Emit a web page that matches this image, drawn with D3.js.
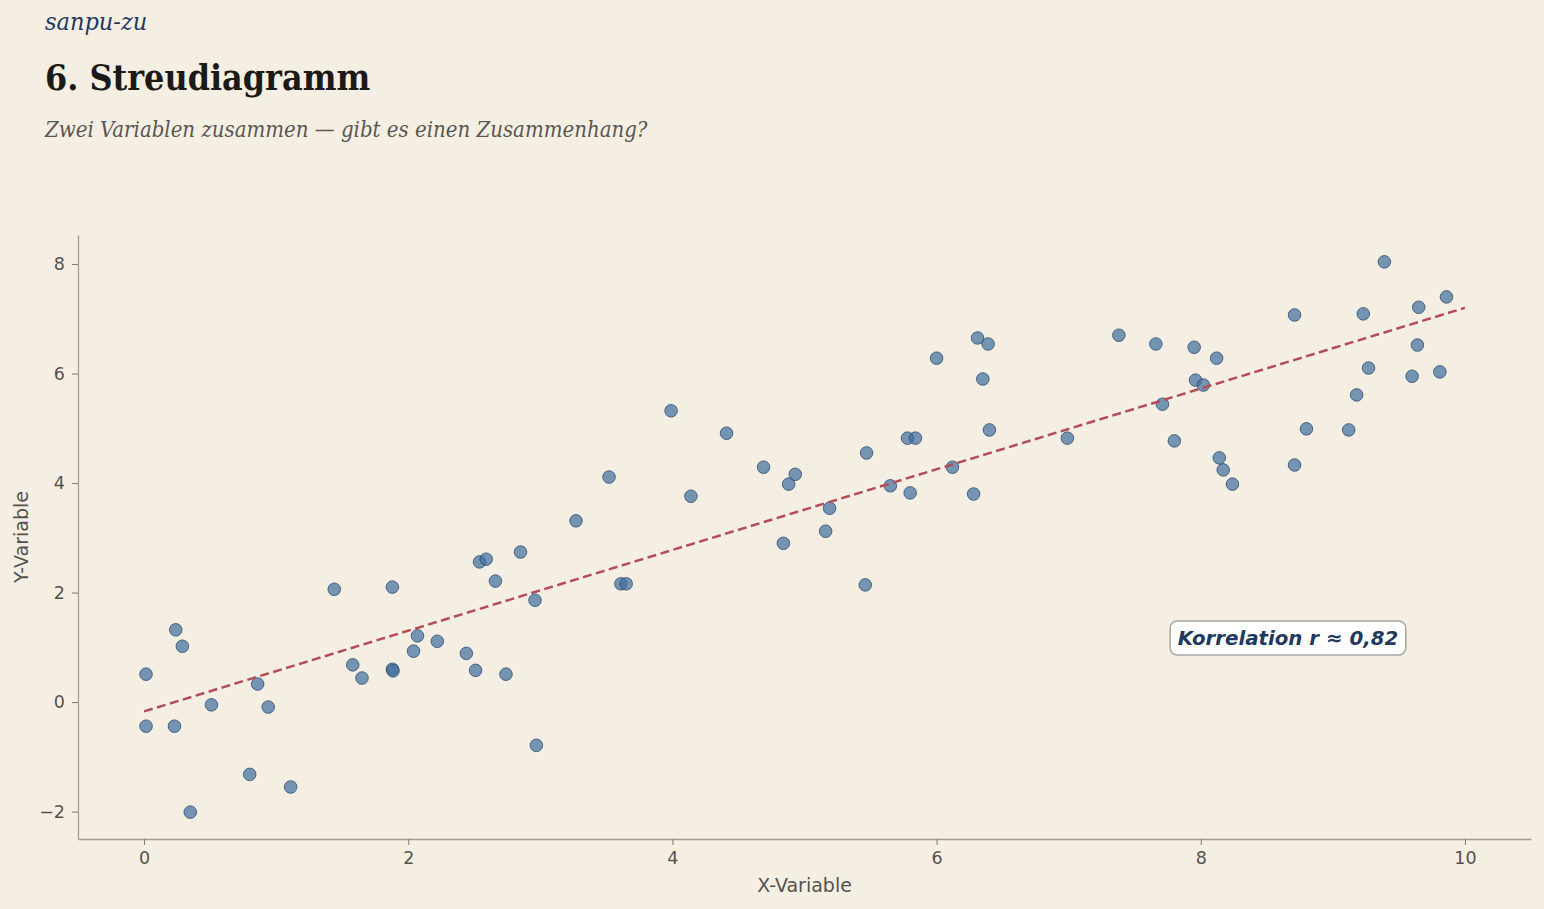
<!DOCTYPE html>
<html>
<head>
<meta charset="utf-8">
<script src="https://cdn.jsdelivr.net/npm/d3@7"></script>
<style>
  html, body { margin: 0; padding: 0; background: #f5efe3; }
  svg { display: block; }
</style>
</head>
<body>
<svg id="chart"></svg>
<script>
// Data
const xValues = [0.015, 0.015, 0.23, 0.24, 0.29, 0.35, 0.51, 0.80, 0.86, 0.94,
    1.11, 1.44, 1.58, 1.65, 1.88, 1.88, 1.885, 2.04, 2.07, 2.22,
    2.44, 2.51, 2.54, 2.59, 2.66, 2.74, 2.85, 2.96, 2.97, 3.27,
    3.52, 3.61, 3.65, 3.99, 4.14, 4.41, 4.69, 4.84, 4.88, 4.93,
    5.16, 5.19, 5.46, 5.47, 5.65, 5.78, 5.80, 5.84, 6.00, 6.12,
    6.28, 6.31, 6.35, 6.39, 6.40, 6.99, 7.38, 7.66, 7.71, 7.80,
    7.95, 7.96, 8.02, 8.12, 8.14, 8.17, 8.24, 8.71, 8.71, 8.80,
    9.12, 9.18, 9.23, 9.27, 9.39, 9.60, 9.64, 9.65, 9.81, 9.86];
const yValues = [0.51, -0.44, -0.44, 1.32, 1.02, -2.01, -0.05, -1.32, 0.33, -0.09,
    -1.55, 2.06, 0.68, 0.44, 2.10, 0.60, 0.57, 0.93, 1.21, 1.11,
    0.89, 0.58, 2.56, 2.61, 2.21, 0.51, 2.74, 1.86, -0.79, 3.31,
    4.11, 2.16, 2.16, 5.32, 3.76, 4.91, 4.29, 2.90, 3.98, 4.16,
    3.12, 3.54, 2.14, 4.55, 3.95, 4.82, 3.82, 4.82, 6.28, 4.29,
    3.80, 6.65, 5.90, 6.54, 4.97, 4.82, 6.70, 6.54, 5.44, 4.77,
    6.48, 5.88, 5.79, 6.28, 4.46, 4.24, 3.98, 7.07, 4.33, 4.99,
    4.97, 5.61, 7.09, 6.10, 8.04, 5.95, 6.52, 7.21, 6.03, 7.40];

// trend line ends (x, y)
const fitX = [0, 10];
const fitY = [-0.17, 7.2];

const xTicks = [0, 2, 4, 6, 8, 10];
const yTicks = [-2, 0, 2, 4, 6, 8];
const annotation = "Korrelation r \u2248 0,82";

const width = 1544;
const height = 909;
const margin = { top: 235, right: 13, bottom: 70, left: 78 };

const svg = d3.select("#chart")
    .attr("width", width)
    .attr("height", height)
    .style("font-family", "'DejaVu Sans', sans-serif");

svg.append("rect")
    .attr("width", width)
    .attr("height", height)
    .attr("fill", "#f5efe3");

// Header texts
svg.append("text")
    .attr("x", 45).attr("y", 30)
    .attr("font-family", "'DejaVu Serif', serif")
    .attr("font-style", "italic")
    .attr("font-stretch", "condensed")
    .attr("font-size", 25)
    .attr("fill", "#1e3a5f")
    .text("sanpu-zu");

svg.append("text")
    .attr("x", 45).attr("y", 90)
    .attr("font-family", "'DejaVu Serif', serif")
    .attr("font-weight", "bold")
    .attr("font-stretch", "condensed")
    .attr("font-size", 35.5)
    .attr("fill", "#1c1a17")
    .text("6. Streudiagramm");

svg.append("text")
    .attr("x", 45).attr("y", 137)
    .attr("font-family", "'DejaVu Serif', serif")
    .attr("font-style", "italic")
    .attr("font-stretch", "condensed")
    .attr("font-size", 22)
    .attr("fill", "#5a5652")
    .text("Zwei Variablen zusammen \u2014 gibt es einen Zusammenhang?");

const x = d3.scaleLinear()
    .domain([-0.5, 10.5])
    .range([margin.left, width - margin.right]);
const y = d3.scaleLinear()
    .domain([-2.5, 8.53])
    .range([height - margin.bottom, margin.top]);

const fmt = d => d < 0 ? "\u2212" + Math.abs(d) : String(d);

// Axes
const gx = svg.append("g")
    .attr("transform", `translate(0,${height - margin.bottom})`)
    .call(d3.axisBottom(x).tickValues(xTicks).tickFormat(fmt)
        .tickSize(6).tickSizeOuter(0).tickPadding(7));
const gy = svg.append("g")
    .attr("transform", `translate(${margin.left},0)`)
    .call(d3.axisLeft(y).tickValues(yTicks).tickFormat(fmt)
        .tickSize(6).tickSizeOuter(0).tickPadding(7));

[gx, gy].forEach(g => {
    g.select(".domain").attr("stroke", "#a09b94").attr("stroke-width", 1.3);
    g.selectAll(".tick line").attr("stroke", "#7d7872");
    g.selectAll(".tick text")
        .attr("fill", "#55524e")
        .attr("font-size", 17.5)
        .attr("font-family", "'DejaVu Sans', sans-serif");
});

svg.append("text")
    .attr("x", (margin.left + width - margin.right) / 2)
    .attr("y", 892)
    .attr("text-anchor", "middle")
    .attr("font-size", 19)
    .attr("fill", "#55524e")
    .text("X-Variable");

svg.append("text")
    .attr("transform", `translate(28,${(margin.top + height - margin.bottom) / 2}) rotate(-90)`)
    .attr("text-anchor", "middle")
    .attr("font-size", 19)
    .attr("fill", "#55524e")
    .text("Y-Variable");

// Points
const points = xValues.map((v, i) => ({ x: v, y: yValues[i] }));

svg.append("g")
    .selectAll("circle")
    .data(points)
    .enter()
    .append("circle")
    .attr("cx", d => x(d.x))
    .attr("cy", d => y(d.y))
    .attr("r", 6.3)
    .attr("fill", "#3e6d9c")
    .attr("fill-opacity", 0.7)
    .attr("stroke", "#2a4a6e")
    .attr("stroke-opacity", 0.85)
    .attr("stroke-width", 0.9);

// Trend line
const line = d3.line()
    .x(d => x(d[0]))
    .y(d => y(d[1]));

svg.append("path")
    .datum(fitX.map((v, i) => [v, fitY[i]]))
    .attr("d", line)
    .attr("fill", "none")
    .attr("stroke", "#b34d57")
    .attr("stroke-width", 2.5)
    .attr("stroke-dasharray", "9,4.5");

// Annotation box
const ann = svg.append("g")
    .attr("transform", `translate(${x(8.66)},${y(1.17)})`);
const annText = ann.append("text")
    .attr("text-anchor", "middle")
    .attr("dy", "0.36em")
    .attr("font-size", 19.8)
    .attr("font-weight", "bold")
    .attr("font-style", "italic")
    .attr("fill", "#1e3a5f")
    .text(annotation);
const bb = annText.node().getBBox();
ann.insert("rect", "text")
    .attr("x", bb.x - 7.5)
    .attr("y", -17)
    .attr("width", bb.width + 15)
    .attr("height", 34)
    .attr("rx", 7)
    .attr("fill", "#ffffff")
    .attr("stroke", "#aaa59e")
    .attr("stroke-width", 1.5);
</script>
</body>
</html>
